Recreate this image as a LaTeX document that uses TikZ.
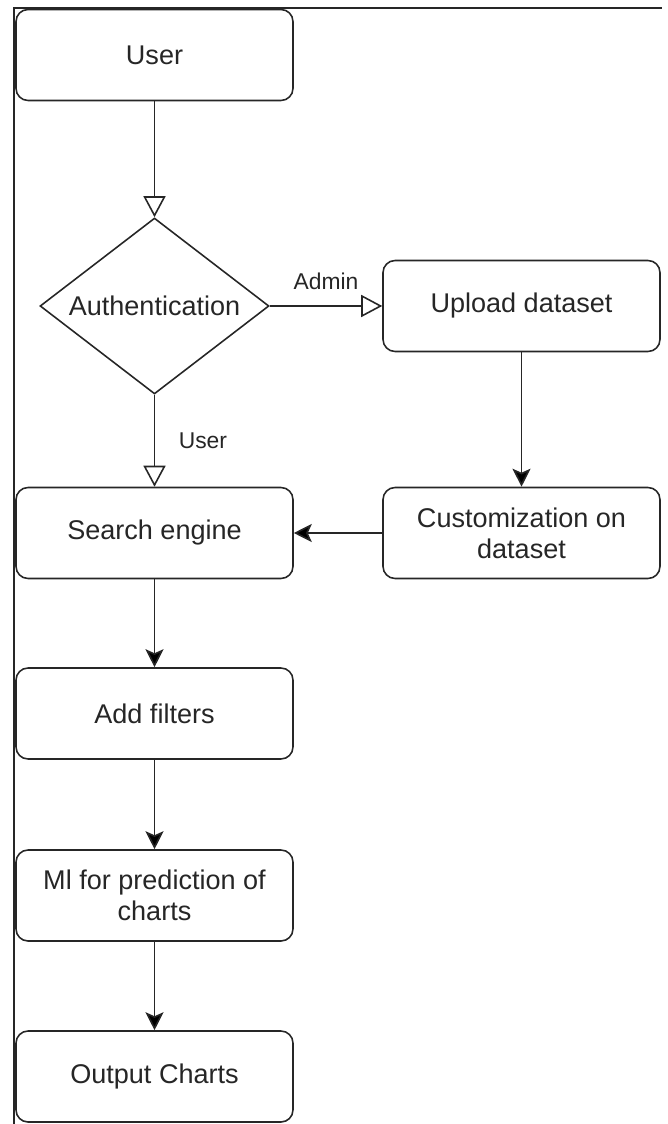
\documentclass[tikz,border=0pt]{standalone}
\usepackage{fontspec}
\setmainfont{Liberation Sans}
\usetikzlibrary{shapes.geometric,arrows.meta}

\tikzset{
	box/.style={draw=black!85, rounded corners=0.24cm, minimum width=5.54cm, minimum height=1.82cm,
		align=center, line width=0.9pt, text=black!85, font=\fontsize{15.4pt}{17.6pt}\selectfont},
	decision/.style={draw=black!85, diamond, aspect=1.3, inner sep=0pt, minimum width=4.58cm,
		minimum height=3.52cm, line width=0.9pt, text=black!85, font=\fontsize{15.4pt}{17.6pt}\selectfont},
	opentip/.style={draw=black!85, line width=0.9pt, -{Triangle[open, length=0.42cm, width=0.44cm]}},
	filltip/.style={draw=black!85, line width=0.9pt, -{Stealth[length=0.36cm, width=0.36cm, inset=0.08cm]}},
	lbl/.style={inner sep=0pt, text=black!85, font=\fontsize{13pt}{15pt}\selectfont}
}

\begin{document}
\begin{tikzpicture}[x=0.02cm, y=-0.02cm]
	\useasboundingbox (0,0) rectangle (668,1124);
	\draw[black!85, line width=1pt] (14,1124) -- (14,8) -- (662,8);

	\node[box] (user) at (154.5,55) {User};
	\node[decision] (auth) at (154.5,306) {Authentication};
	\node[box] (upload) at (521.5,306) {Upload dataset};
	\node[box] (custom) at (521.5,533) {Customization on\\dataset};
	\node[box] (search) at (154.5,533) {Search engine};
	\node[box] (filters) at (154.5,713.5) {Add filters};
	\node[box] (ml) at (154.5,895.5) {Ml for prediction of\\charts};
	\node[box] (output) at (154.5,1076.5) {Output Charts};

	\path [opentip] (user) edge (auth);
	\path [opentip] (auth) edge node[lbl, above=0.3cm] {Admin} (upload);
	\path [opentip] (auth) edge node[lbl, right=0.47cm] {User} (search);
	\path [filltip] (upload) edge (custom);
	\path [filltip] (custom) edge (search);
	\path [filltip] (search) edge (filters);
	\path [filltip] (filters) edge (ml);
	\path [filltip] (ml) edge (output);
\end{tikzpicture}
\end{document}
